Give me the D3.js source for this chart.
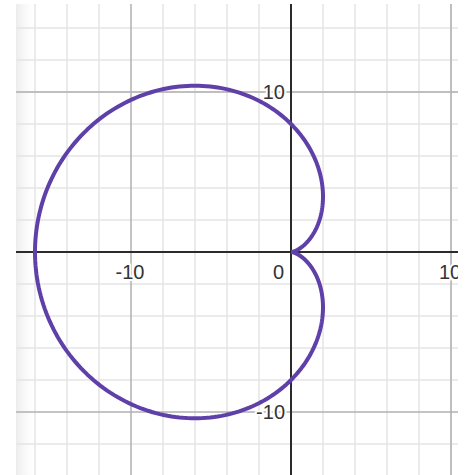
<!DOCTYPE html>
<html>
<head>
<meta charset="utf-8">
<script src="https://cdn.jsdelivr.net/npm/d3@7"></script>
<style>
  body { margin: 0; background: #fff; }
  svg { display: block; }
  .lbl { font-family: Arial, "Liberation Sans", sans-serif; font-size: 20px; fill: #333;
         stroke: #fff; stroke-width: 4px; paint-order: stroke; stroke-linejoin: round; }
</style>
</head>
<body>
<script>
svgWidth = 466
svgHeight = 475
plot = {"left": 16, "right": 458, "top": 4, "bottom": 475}
origin = {"x": 291, "y": 252}
pxPerUnit = 16

// grid / tick values
minorTicks = [-16, -14, -12, -8, -6, -4, -2, 2, 4, 6, 8, 10, 12, 14]
majorTicks = [-10, 10]
xLabels = [-10, 0, 10]
yLabels = [10, -10]

cardioidA = [8]
angleSteps = [360]

xScale = d3.scaleLinear()
            .domain([(plot.left - origin.x) / pxPerUnit, (plot.right - origin.x) / pxPerUnit])
            .range([plot.left, plot.right])

yScale = d3.scaleLinear()
            .domain([(origin.y - plot.top) / pxPerUnit, (origin.y - plot.bottom) / pxPerUnit])
            .range([plot.top, plot.bottom])

var svg = d3.select("body").append("svg")
          .attr("width", svgWidth)
          .attr("height", svgHeight)

var defs = svg.append("defs")
var grad = defs.append("linearGradient").attr("id", "shade")
grad.append("stop").attr("offset", "0%").attr("stop-color", "#ececec")
grad.append("stop").attr("offset", "100%").attr("stop-color", "#fff").attr("stop-opacity", 0)

defs.append("clipPath").attr("id", "clip")
    .append("rect")
      .attr("x", plot.left).attr("y", plot.top)
      .attr("width", plot.right - plot.left).attr("height", plot.bottom - plot.top)

// left edge shading
svg.append("rect")
    .attr("x", plot.left).attr("y", plot.top)
    .attr("width", 22).attr("height", plot.bottom - plot.top)
    .attr("fill", "url(#shade)")

var grid = svg.append("g").attr("clip-path", "url(#clip)")

function gridLines(vals, color, width) {
    grid.selectAll(null).data(vals).enter().append("line")
        .attr("x1", d => xScale(d)).attr("x2", d => xScale(d))
        .attr("y1", plot.top).attr("y2", plot.bottom)
        .attr("stroke", color).attr("stroke-width", width)
    grid.selectAll(null).data(vals).enter().append("line")
        .attr("y1", d => yScale(d)).attr("y2", d => yScale(d))
        .attr("x1", plot.left).attr("x2", plot.right)
        .attr("stroke", color).attr("stroke-width", width)
}

gridLines(minorTicks, "#e4e4e4", 1.5)
gridLines(majorTicks, "#b0b0b0", 1.5)

// axes
grid.append("line")
    .attr("x1", xScale(0)).attr("x2", xScale(0))
    .attr("y1", plot.top).attr("y2", plot.bottom)
    .attr("stroke", "#2b2b2b").attr("stroke-width", 2)
grid.append("line")
    .attr("y1", yScale(0)).attr("y2", yScale(0))
    .attr("x1", plot.left).attr("x2", plot.right)
    .attr("stroke", "#2b2b2b").attr("stroke-width", 2)

// curve
var a = cardioidA[0]
var pts = d3.range(angleSteps[0] + 1).map(function(i) {
    var t = i / angleSteps[0] * 2 * Math.PI
    var r = a * (1 - Math.cos(t))
    return [r * Math.cos(t), r * Math.sin(t)]
})

var line = d3.line()
    .x(d => xScale(d[0]))
    .y(d => yScale(d[1]))

var labels = svg.append("g").attr("clip-path", "url(#clip)")

labels.selectAll(".xl").data(xLabels).enter().append("text")
    .attr("class", "lbl xl")
    .attr("x", d => d == 0 ? xScale(0) - 7 : xScale(d) - 1)
    .attr("y", yScale(0) + 27)
    .attr("text-anchor", d => d == 0 ? "end" : "middle")
    .text(d => d)

labels.selectAll(".yl").data(yLabels).enter().append("text")
    .attr("class", "lbl yl")
    .attr("x", xScale(0) - 6)
    .attr("y", d => yScale(d) + 7)
    .attr("text-anchor", "end")
    .text(d => d)

svg.append("path")
    .datum(pts)
    .attr("clip-path", "url(#clip)")
    .attr("d", line)
    .attr("fill", "none")
    .attr("stroke", "#5f40a9")
    .attr("stroke-width", 4)
    .attr("stroke-linejoin", "round")
</script>
</body>
</html>
